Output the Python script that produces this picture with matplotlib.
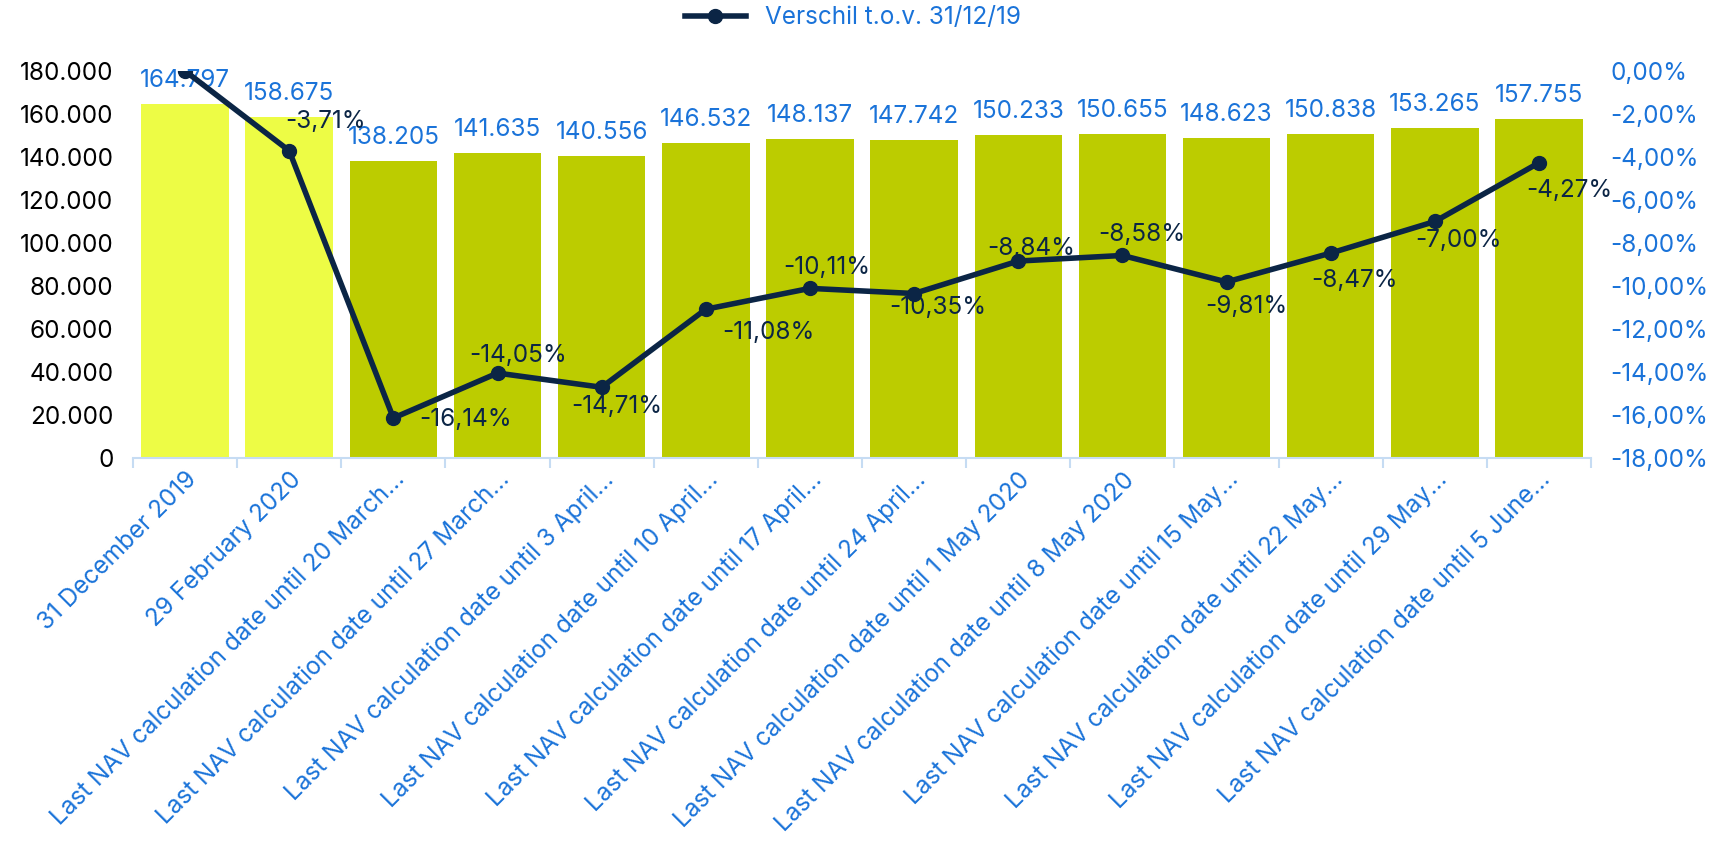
import matplotlib.pyplot as plt
from matplotlib.ticker import FuncFormatter, MultipleLocator, FixedLocator

plt.rcParams['font.family'] = ['Inter', 'DejaVu Sans']

categories = [
    '31 December 2019',
    '29 February 2020',
    'Last NAV calculation date until 20 March…',
    'Last NAV calculation date until 27 March…',
    'Last NAV calculation date until 3 April…',
    'Last NAV calculation date until 10 April…',
    'Last NAV calculation date until 17 April…',
    'Last NAV calculation date until 24 April…',
    'Last NAV calculation date until 1 May 2020',
    'Last NAV calculation date until 8 May 2020',
    'Last NAV calculation date until 15 May…',
    'Last NAV calculation date until 22 May…',
    'Last NAV calculation date until 29 May…',
    'Last NAV calculation date until 5 June…',
]
nav = [164797, 158675, 138205, 141635, 140556, 146532, 148137,
       147742, 150233, 150655, 148623, 150838, 153265, 157755]
verschil = [0.0, -3.71, -16.14, -14.05, -14.71, -11.08, -10.11,
            -10.35, -8.84, -8.58, -9.81, -8.47, -7.00, -4.27]

# label placement (points) for the line labels, as Excel put them
lbl_off = [None, (26, 21), (52, -1), (15, 13), (11, -14), (45, -17), (12, 15),
           (17, -10), (9, 9), (14, 15), (14, -18), (17, -20), (17, -14), (22, -20)]

blue = '#1A73D9'
navy = '#0B2545'
fs = 17.5
bar_colors = ['#EDFC45'] * 2 + ['#BCCC00'] * (len(nav) - 2)

fig = plt.figure(figsize=(17.27, 8.55), dpi=100)
ax = fig.add_axes([0.077, 0.4643, 0.8443, 0.4527])
x = list(range(len(nav)))
ax.bar(x, nav, width=0.84, color=bar_colors, zorder=2)
for xi, v in zip(x, nav):
    ax.annotate(f'{v:,}'.replace(',', '.'), (xi, v), xytext=(0, 17),
                textcoords='offset points', ha='center', va='center',
                color=blue, fontsize=fs)

ax.set_xlim(-0.5, len(nav) - 0.5)
ax.set_ylim(0, 180000)
ax.yaxis.set_major_locator(MultipleLocator(20000))
ax.yaxis.set_major_formatter(FuncFormatter(lambda v, p: f'{int(v):,}'.replace(',', '.')))
ax.tick_params(axis='y', length=0, pad=14, labelsize=fs, colors='black')
ax.set_xticks(x)
ax.set_xticklabels(categories, rotation=45, ha='right', rotation_mode='anchor',
                   color=blue, fontsize=fs)
ax.tick_params(axis='x', which='major', length=0, pad=7)
ax.xaxis.set_minor_locator(FixedLocator([i - 0.5 for i in range(len(nav) + 1)]))
ax.tick_params(axis='x', which='minor', length=7, color='#C6DCF3', width=1.5)
for s in ['top', 'left', 'right']:
    ax.spines[s].set_visible(False)
ax.spines['bottom'].set_color('#C6DCF3')
ax.spines['bottom'].set_linewidth(1.5)

ax2 = ax.twinx()
ax2.plot(x, [v / 100 for v in verschil], color=navy, lw=4, marker='o',
         markersize=10, label='Verschil t.o.v. 31/12/19', zorder=3)
for xi, v, off in zip(x, verschil, lbl_off):
    if off is None:
        continue
    ax2.annotate(f'{v:.2f}%'.replace('.', ','), (xi, v / 100), xytext=off,
                 textcoords='offset points', ha='center', va='center',
                 color=navy, fontsize=fs)
ax2.set_ylim(-0.18, 0)
ax2.yaxis.set_major_locator(MultipleLocator(0.02))
ax2.yaxis.set_major_formatter(FuncFormatter(lambda v, p: f'{v * 100:.2f}%'.replace('.', ',').replace('-0,00', '0,00')))
ax2.tick_params(axis='y', length=0, pad=14, labelsize=fs, colors=blue)
for s in ['top', 'left', 'right', 'bottom']:
    ax2.spines[s].set_visible(False)

leg = fig.legend(loc='center', bbox_to_anchor=(0.494, 0.979), frameon=False,
                 fontsize=fs, handlelength=2.5)
for t in leg.get_texts():
    t.set_color(blue)

fig.savefig('out.png', dpi=100)
